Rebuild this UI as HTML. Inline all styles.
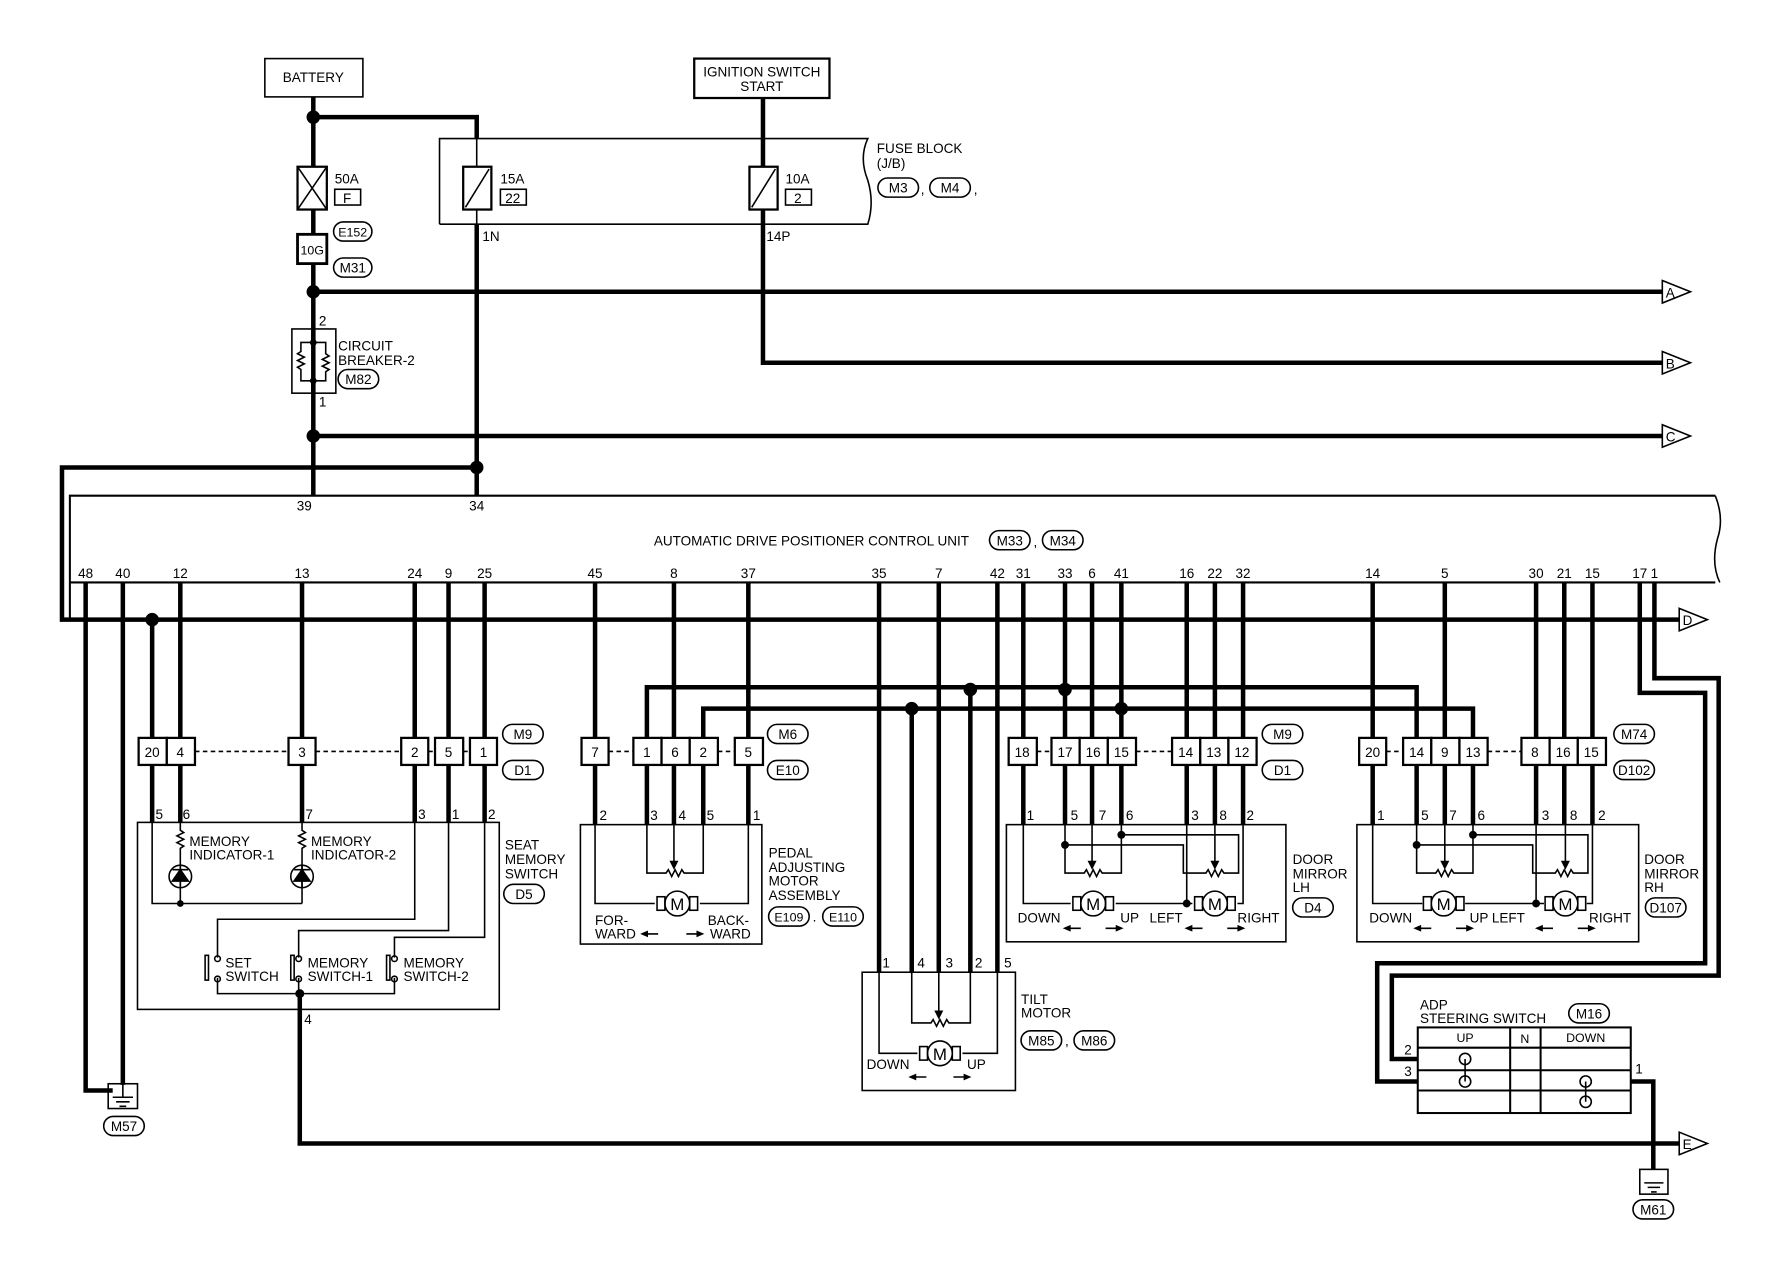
<!DOCTYPE html>
<html><head><meta charset="utf-8"><style>
html,body{margin:0;padding:0;background:#fff;}
svg{display:block;}
text{font-family:"Liberation Sans",sans-serif;font-size:12px;fill:#000;}
.t{stroke:#000;stroke-width:4;fill:none;}
.n{stroke:#000;stroke-width:1.4;fill:none;}
.b{stroke:#000;stroke-width:2;fill:#fff;}
.c{text-anchor:middle;}
</style></head><body>
<svg width="1766" height="1264" viewBox="0 0 1567 1122" preserveAspectRatio="none" xmlns="http://www.w3.org/2000/svg">
<!-- Battery / ignition -->
<rect x="235" y="52" width="87" height="34" class="n" fill="#fff"/>
<text x="278" y="73" class="c">BATTERY</text>
<rect x="616" y="52" width="120" height="35" class="b"/>
<text x="676" y="68" class="c">IGNITION SWITCH</text>
<text x="676" y="81" class="c">START</text>
<!-- fuse block -->
<path class="n" d="M390,199 V123 H770 Q762,140 770,160 Q776,180 770,199 H390"/>
<text x="778" y="136">FUSE BLOCK</text><text x="778" y="149">(J/B)</text>
<rect x="779" y="158" width="36" height="17" rx="8.5" class="n"/><text x="797" y="171" class="c">M3</text>
<text x="817" y="172">,</text>
<rect x="825" y="158" width="36" height="17" rx="8.5" class="n"/><text x="843" y="171" class="c">M4</text>
<text x="864" y="172">,</text>
<!-- thick wires -->
<path class="t" d="M278,86 V440 M278,104 H423 V123 M423,199 V440 M677,87 V148 M677,186 V322 H1475 M278,259 H1475 M278,387 H1475 M423,415 H55 V550 H1490"/>
<path class="n" d="M423,123 V148 M423,186 V199"/>
<circle cx="278" cy="104" r="6"/><circle cx="278" cy="259" r="6"/><circle cx="278" cy="387" r="6"/><circle cx="423" cy="415" r="6"/>
<!-- fuses -->
<rect x="264" y="148" width="26" height="38" class="b"/><path class="n" d="M264,148 L290,186 M290,148 L264,186"/>
<text x="297" y="163">50A</text><rect x="297" y="168" width="23" height="14" class="n"/><text x="308" y="180" class="c">F</text>
<rect x="411" y="148" width="25" height="38" class="b"/><path class="n" d="M413,184 L434,150"/>
<text x="444" y="163">15A</text><rect x="444" y="168" width="23" height="14" class="n"/><text x="455" y="180" class="c">22</text>
<rect x="665" y="148" width="25" height="38" class="b"/><path class="n" d="M667,184 L688,150"/>
<text x="697" y="163">10A</text><rect x="697" y="168" width="23" height="14" class="n"/><text x="708" y="180" class="c">2</text>
<text x="428" y="214">1N</text><text x="680" y="214">14P</text>
<rect x="296" y="197" width="34" height="17" rx="8.5" class="n"/><text x="313" y="210" class="c" style="font-size:11px">E152</text>
<rect x="264" y="208" width="26" height="26" class="b" style="stroke-width:2.5"/><text x="277" y="226" class="c" style="font-size:11px">10G</text>
<rect x="296" y="229" width="34" height="17" rx="8.5" class="n"/><text x="313" y="242" class="c">M31</text>
<!-- circuit breaker -->
<text x="283" y="289">2</text><text x="283" y="361">1</text>
<rect x="259" y="292" width="39" height="57" fill="#fff" class="n"/>
<path class="n" d="M278,304 H267 V312 l-3,2 6,3 -6,3 6,3 -6,3 3,2 V338 H289 V330 l3,-2 -6,-3 6,-3 -6,-3 6,-3 -3,-2 V304 H278"/>
<path class="t" d="M278,292 V304 M278,338 V349"/>
<circle cx="278" cy="304" r="3"/><circle cx="278" cy="338" r="3"/>
<text x="300" y="311">CIRCUIT</text><text x="300" y="324">BREAKER-2</text>
<rect x="300" y="328" width="36" height="17" rx="8.5" class="n"/><text x="318" y="341" class="c">M82</text>
<!-- flags -->
<g class="n" fill="#fff">
<polygon points="1475,249 1500,259 1475,269" fill="#fff"/><polygon points="1475,312 1500,322 1475,332" fill="#fff"/>
<polygon points="1475,377 1500,387 1475,397" fill="#fff"/><polygon points="1490,540 1515,550 1490,560" fill="#fff"/>
<polygon points="1490,1005 1515,1015 1490,1025" fill="#fff"/></g>
<text x="1478" y="264">A</text><text x="1478" y="327">B</text><text x="1478" y="392">C</text><text x="1493" y="555">D</text><text x="1493" y="1020">E</text>
<!-- control unit -->
<path class="n" d="M62,550 V440 H1522 M62,517 H1522" style="stroke-width:1.8"/>
<path class="n" d="M1522,440 Q1530,460 1524,478 Q1518,500 1526,517"/>
<text x="270" y="453" class="c">39</text><text x="423" y="453" class="c">34</text>
<text x="720" y="484" class="c">AUTOMATIC DRIVE POSITIONER CONTROL UNIT</text>
<rect x="878" y="471" width="36" height="17" rx="8.5" class="n"/><text x="896" y="484" class="c">M33</text>
<text x="917" y="485">,</text>
<rect x="925" y="471" width="36" height="17" rx="8.5" class="n"/><text x="943" y="484" class="c">M34</text>
<g class="c">
<text x="76" y="513">48</text><text x="109" y="513">40</text><text x="160" y="513">12</text><text x="268" y="513">13</text><text x="368" y="513">24</text><text x="398" y="513">9</text><text x="430" y="513">25</text>
<text x="528" y="513">45</text><text x="598" y="513">8</text><text x="664" y="513">37</text><text x="780" y="513">35</text><text x="833" y="513">7</text><text x="885" y="513">42</text><text x="908" y="513">31</text>
<text x="945" y="513">33</text><text x="969" y="513">6</text><text x="995" y="513">41</text><text x="1053" y="513">16</text><text x="1078" y="513">22</text><text x="1103" y="513">32</text>
<text x="1218" y="513">14</text><text x="1282" y="513">5</text><text x="1363" y="513">30</text><text x="1388" y="513">21</text><text x="1413" y="513">15</text><text x="1455" y="513">17</text><text x="1468" y="513">1</text>
</g>
<!-- pin wires -->
<path class="t" d="M76,517 V968 H100 M109,517 V963 M135,550 V655 M160,517 V655 M268,517 V655 M368,517 V655 M398,517 V655 M430,517 V655
M528,517 V655 M598,517 V655 M664,517 V655 M574,655 V610 H1257 V655 M624,655 V629 H1307 V655
M780,517 V863 M833,517 V863 M885,517 V863 M809,629 V863 M861,610 V863 M908,517 V655
M945,517 V655 M969,517 V655 M995,517 V655 M1053,517 V655 M1078,517 V655 M1103,517 V655
M1218,517 V655 M1282,517 V655 M1363,517 V655 M1388,517 V655 M1413,517 V655
M1468,517 V602 H1525 V866 H1235 V940 H1258 M1455,517 V615 H1513 V855 H1222 V960 H1258
M135,679 V730 M160,679 V730 M268,679 V730 M368,679 V730 M398,679 V730 M430,679 V730
M528,679 V732 M574,679 V732 M598,679 V732 M624,679 V732 M664,679 V732
M908,679 V732 M945,679 V732 M969,679 V732 M995,679 V732 M1053,679 V732 M1078,679 V732 M1103,679 V732
M1218,679 V732 M1257,679 V732 M1282,679 V732 M1307,679 V732 M1363,679 V732 M1388,679 V732 M1413,679 V732
M266,882 V1015 H1490 M1447,960 H1467 V1038"/>
<circle cx="135" cy="550" r="6"/><circle cx="809" cy="629" r="6"/><circle cx="861" cy="612" r="6"/><circle cx="945" cy="612" r="6"/><circle cx="995" cy="629" r="6"/>
<!-- grounds -->
<rect x="96" y="962" width="26" height="22" class="n" fill="#fff"/><path class="n" d="M100,974 H118 M103,978 H115 M106,982 H112 M109,962 V974"/>
<rect x="92" y="991" width="36" height="17" rx="8.5" class="n"/><text x="110" y="1004" class="c">M57</text>
<rect x="1455" y="1038" width="25" height="22" class="n"/><path class="n" d="M1459,1050 H1476 M1462,1054 H1473 M1465,1058 H1470"/>
<rect x="1449" y="1065" width="36" height="17" rx="8.5" class="n"/><text x="1467" y="1078" class="c">M61</text>
<!-- connector rows -->
<g class="n" style="stroke-dasharray:4,3"><path d="M173,667 H256 M280,667 H356 M380,667 H386 M411,667 H417 M540,667 H562 M637,667 H652 M920,667 H933 M1008,667 H1040 M1230,667 H1245 M1320,667 H1350"/></g>
<g class="b">
<rect x="123" y="655" width="25" height="24"/><rect x="148" y="655" width="25" height="24"/><rect x="256" y="655" width="24" height="24"/>
<rect x="356" y="655" width="24" height="24"/><rect x="386" y="655" width="25" height="24"/><rect x="417" y="655" width="24" height="24"/>
<rect x="516" y="655" width="24" height="24"/><rect x="562" y="655" width="25" height="24"/><rect x="587" y="655" width="25" height="24"/><rect x="612" y="655" width="25" height="24"/><rect x="652" y="655" width="25" height="24"/>
<rect x="895" y="655" width="25" height="24"/><rect x="933" y="655" width="25" height="24"/><rect x="958" y="655" width="25" height="24"/><rect x="983" y="655" width="25" height="24"/>
<rect x="1040" y="655" width="25" height="24"/><rect x="1065" y="655" width="25" height="24"/><rect x="1090" y="655" width="25" height="24"/>
<rect x="1206" y="655" width="24" height="24"/><rect x="1245" y="655" width="25" height="24"/><rect x="1270" y="655" width="25" height="24"/><rect x="1295" y="655" width="25" height="24"/>
<rect x="1350" y="655" width="25" height="24"/><rect x="1375" y="655" width="25" height="24"/><rect x="1400" y="655" width="25" height="24"/>
</g>
<g class="c">
<text x="135" y="672">20</text><text x="160" y="672">4</text><text x="268" y="672">3</text><text x="368" y="672">2</text><text x="398" y="672">5</text><text x="429" y="672">1</text>
<text x="528" y="672">7</text><text x="574" y="672">1</text><text x="599" y="672">6</text><text x="624" y="672">2</text><text x="664" y="672">5</text>
<text x="907" y="672">18</text><text x="945" y="672">17</text><text x="970" y="672">16</text><text x="995" y="672">15</text><text x="1052" y="672">14</text><text x="1077" y="672">13</text><text x="1102" y="672">12</text>
<text x="1218" y="672">20</text><text x="1257" y="672">14</text><text x="1282" y="672">9</text><text x="1307" y="672">13</text><text x="1362" y="672">8</text><text x="1387" y="672">16</text><text x="1412" y="672">15</text>
</g>
<g class="n">
<rect x="446" y="643" width="36" height="17" rx="8.5"/><rect x="446" y="675" width="36" height="17" rx="8.5"/>
<rect x="681" y="643" width="36" height="17" rx="8.5"/><rect x="681" y="675" width="36" height="17" rx="8.5"/>
<rect x="1120" y="643" width="36" height="17" rx="8.5"/><rect x="1120" y="675" width="36" height="17" rx="8.5"/>
<rect x="1432" y="643" width="36" height="17" rx="8.5"/><rect x="1432" y="675" width="36" height="17" rx="8.5"/>
</g>
<g class="c">
<text x="464" y="656">M9</text><text x="464" y="688">D1</text><text x="699" y="656">M6</text><text x="699" y="688">E10</text>
<text x="1138" y="656">M9</text><text x="1138" y="688">D1</text><text x="1450" y="656">M74</text><text x="1450" y="688">D102</text>
</g>
<!-- seat memory switch -->
<rect x="122" y="730" width="321" height="166" class="n"/>
<g><text x="138" y="727">5</text><text x="162" y="727">6</text><text x="271" y="727">7</text><text x="371" y="727">3</text><text x="401" y="727">1</text><text x="433" y="727">2</text></g>
<path class="n" d="M135,730 V802 H268 M160,730 V737 l3,2 -6,3 6,3 -6,3 6,3 -3,2 V802 M268,730 V737 l3,2 -6,3 6,3 -6,3 6,3 -3,2 V802
M368,730 V816 H193 V850 M398,730 V826 H265 V850 M430,730 V832 H350 V850 M193,868 V882 H350 V868 M265,868 V882"/>
<circle cx="160" cy="778" r="10" class="n" fill="#fff"/><circle cx="268" cy="778" r="10" class="n" fill="#fff"/>
<path d="M153,782 L167,782 L160,772 Z M153,772 H167" stroke="#000" stroke-width="1.5"/>
<path d="M261,782 L275,782 L268,772 Z M261,772 H275" stroke="#000" stroke-width="1.5"/>
<path class="n" d="M160,768 V788 M268,768 V788"/>
<circle cx="160" cy="802" r="3"/><circle cx="266" cy="882" r="4"/>
<g fill="#fff" class="n"><circle cx="193" cy="851" r="2.5"/><circle cx="193" cy="869" r="2.5"/><circle cx="265" cy="851" r="2.5"/><circle cx="265" cy="869" r="2.5"/><circle cx="350" cy="851" r="2.5"/><circle cx="350" cy="869" r="2.5"/>
<rect x="182" y="848" width="3" height="22"/><rect x="258" y="848" width="3" height="22"/><rect x="343" y="848" width="3" height="22"/></g>
<text x="168" y="751">MEMORY</text><text x="168" y="763">INDICATOR-1</text><text x="276" y="751">MEMORY</text><text x="276" y="763">INDICATOR-2</text>
<text x="200" y="859">SET</text><text x="200" y="871">SWITCH</text><text x="273" y="859">MEMORY</text><text x="273" y="871">SWITCH-1</text><text x="358" y="859">MEMORY</text><text x="358" y="871">SWITCH-2</text>
<text x="270" y="909">4</text>
<text x="448" y="754">SEAT</text><text x="448" y="767">MEMORY</text><text x="448" y="780">SWITCH</text>
<rect x="447" y="785" width="36" height="17" rx="8.5" class="n"/><text x="465" y="798" class="c">D5</text>
<!-- pedal -->
<rect x="515" y="732" width="161" height="106" class="n"/>
<g><text x="532" y="728">2</text><text x="577" y="728">3</text><text x="602" y="728">4</text><text x="627" y="728">5</text><text x="668" y="728">1</text></g>
<path class="n" d="M574,732 V775 H591 l2,-3 3,6 3,-6 3,6 3,-6 2,3 H624 V732 M598,732 V766 M528,732 V802 H581 M664,732 V802 H621"/>
<path d="M594,764 H602 L598,772 Z"/>
<g id="mot"></g>
<circle cx="601" cy="802" r="11" class="n" fill="#fff"/><rect x="583" y="796" width="7" height="12" class="n" fill="#fff"/><rect x="612" y="796" width="7" height="12" class="n" fill="#fff"/>
<text x="601" y="808" class="c" style="font-size:15px">M</text>
<text x="528" y="821">FOR-</text><text x="528" y="833">WARD</text><text x="628" y="821">BACK-</text><text x="630" y="833">WARD</text>
<path class="n" d="M572,829 H584 M609,829 H621"/><path d="M568,829 L575,826 L575,832 Z M625,829 L618,826 L618,832 Z"/>
<text x="682" y="761">PEDAL</text><text x="682" y="774">ADJUSTING</text><text x="682" y="786">MOTOR</text><text x="682" y="799">ASSEMBLY</text>
<rect x="682" y="805" width="36" height="17" rx="8.5" class="n"/><text x="700" y="818" class="c" style="font-size:11px">E109</text><text x="721" y="818">.</text>
<rect x="730" y="805" width="36" height="17" rx="8.5" class="n"/><text x="748" y="818" class="c" style="font-size:11px">E110</text>
<!-- tilt -->
<rect x="765" y="863" width="136" height="105" class="n"/>
<g><text x="783" y="859">1</text><text x="814" y="859">4</text><text x="839" y="859">3</text><text x="865" y="859">2</text><text x="891" y="859">5</text></g>
<path class="n" d="M809,863 V908 H826 l2,-3 3,6 3,-6 3,6 3,-6 2,3 H861 V863 M833,863 V899 M780,863 V935 H814 M885,863 V935 H854"/>
<path d="M829,897 H837 L833,905 Z"/>
<circle cx="834" cy="935" r="11" class="n" fill="#fff"/><rect x="816" y="929" width="7" height="12" class="n" fill="#fff"/><rect x="845" y="929" width="7" height="12" class="n" fill="#fff"/>
<text x="834" y="941" class="c" style="font-size:15px">M</text>
<text x="769" y="949">DOWN</text><text x="858" y="949">UP</text>
<path class="n" d="M810,956 H822 M846,956 H858"/><path d="M806,956 L813,953 L813,959 Z M862,956 L855,953 L855,959 Z"/>
<text x="906" y="891">TILT</text><text x="906" y="903">MOTOR</text>
<rect x="906" y="915" width="36" height="17" rx="8.5" class="n"/><text x="924" y="928" class="c">M85</text><text x="945" y="928">,</text>
<rect x="953" y="915" width="36" height="17" rx="8.5" class="n"/><text x="971" y="928" class="c">M86</text>
<!-- door mirror LH -->
<rect x="893" y="732" width="248" height="104" class="n"/>
<g><text x="911" y="728">1</text><text x="950" y="728">5</text><text x="975" y="728">7</text><text x="999" y="728">6</text><text x="1057" y="728">3</text><text x="1082" y="728">8</text><text x="1106" y="728">2</text></g>
<path class="n" d="M945,732 V775 H962 l2,-3 3,6 3,-6 3,6 3,-6 2,3 H995 V732 M969,732 V766 M945,750 H1050 V775 H1070 l2,-3 3,6 3,-6 3,6 3,-6 2,3 H1099 V741 H995
M1078,732 V766 M908,732 V802 H950 M1053,732 V802 H990 M1053,802 H1058 M1103,732 V802 H1098"/>
<path d="M965,764 H973 L969,772 Z M1074,764 H1082 L1078,772 Z"/>
<circle cx="945" cy="750" r="3.5"/><circle cx="995" cy="741" r="3.5"/><circle cx="1053" cy="802" r="3.5"/>
<circle cx="970" cy="802" r="11" class="n" fill="#fff"/><rect x="952" y="796" width="7" height="12" class="n" fill="#fff"/><rect x="981" y="796" width="7" height="12" class="n" fill="#fff"/><text x="970" y="808" class="c" style="font-size:15px">M</text>
<circle cx="1078" cy="802" r="11" class="n" fill="#fff"/><rect x="1060" y="796" width="7" height="12" class="n" fill="#fff"/><rect x="1089" y="796" width="7" height="12" class="n" fill="#fff"/><text x="1078" y="808" class="c" style="font-size:15px">M</text>
<text x="903" y="819">DOWN</text><text x="994" y="819">UP</text><text x="1020" y="819">LEFT</text><text x="1098" y="819">RIGHT</text>
<path class="n" d="M947,824 H959 M981,824 H993 M1055,824 H1067 M1089,824 H1101"/><path d="M943,824 L950,821 L950,827 Z M997,824 L990,821 L990,827 Z M1051,824 L1058,821 L1058,827 Z M1105,824 L1098,821 L1098,827 Z"/>
<text x="1147" y="767">DOOR</text><text x="1147" y="780">MIRROR</text><text x="1147" y="792">LH</text>
<rect x="1147" y="797" width="36" height="17" rx="8.5" class="n"/><text x="1165" y="810" class="c">D4</text>
<!-- door mirror RH -->
<rect x="1204" y="732" width="250" height="104" class="n"/>
<g><text x="1222" y="728">1</text><text x="1261" y="728">5</text><text x="1286" y="728">7</text><text x="1311" y="728">6</text><text x="1368" y="728">3</text><text x="1393" y="728">8</text><text x="1418" y="728">2</text></g>
<path class="n" d="M1257,732 V775 H1274 l2,-3 3,6 3,-6 3,6 3,-6 2,3 H1307 V732 M1282,732 V766 M1257,750 H1360 V775 H1380 l2,-3 3,6 3,-6 3,6 3,-6 2,3 H1409 V741 H1307
M1389,732 V766 M1218,732 V802 H1262 M1363,732 V802 H1300 M1363,802 H1370 M1413,732 V802 H1408"/>
<path d="M1278,764 H1286 L1282,772 Z M1385,764 H1393 L1389,772 Z"/>
<circle cx="1257" cy="750" r="3.5"/><circle cx="1307" cy="741" r="3.5"/><circle cx="1363" cy="802" r="3.5"/>
<circle cx="1281" cy="802" r="11" class="n" fill="#fff"/><rect x="1263" y="796" width="7" height="12" class="n" fill="#fff"/><rect x="1292" y="796" width="7" height="12" class="n" fill="#fff"/><text x="1281" y="808" class="c" style="font-size:15px">M</text>
<circle cx="1389" cy="802" r="11" class="n" fill="#fff"/><rect x="1371" y="796" width="7" height="12" class="n" fill="#fff"/><rect x="1400" y="796" width="7" height="12" class="n" fill="#fff"/><text x="1389" y="808" class="c" style="font-size:15px">M</text>
<text x="1215" y="819">DOWN</text><text x="1304" y="819">UP LEFT</text><text x="1410" y="819">RIGHT</text>
<path class="n" d="M1258,824 H1270 M1292,824 H1304 M1366,824 H1378 M1400,824 H1412"/><path d="M1254,824 L1261,821 L1261,827 Z M1308,824 L1301,821 L1301,827 Z M1362,824 L1369,821 L1369,827 Z M1416,824 L1409,821 L1409,827 Z"/>
<text x="1459" y="767">DOOR</text><text x="1459" y="780">MIRROR</text><text x="1459" y="792">RH</text>
<rect x="1460" y="797" width="36" height="17" rx="8.5" class="n"/><text x="1478" y="810" class="c">D107</text>
<!-- ADP steering switch -->
<text x="1260" y="896">ADP</text><text x="1260" y="908">STEERING SWITCH</text>
<rect x="1392" y="891" width="36" height="17" rx="8.5" class="n"/><text x="1410" y="904" class="c">M16</text>
<rect x="1258" y="912" width="189" height="76" class="n" style="stroke-width:1.8"/>
<path class="n" d="M1340,912 V988 M1367,912 V988 M1258,930 H1447 M1258,950 H1447 M1258,968 H1447" style="stroke-width:1.8"/>
<text x="1300" y="925" class="c" style="font-size:11px">UP</text><text x="1353" y="926" class="c" style="font-size:11px">N</text><text x="1407" y="925" class="c" style="font-size:11px">DOWN</text>
<text x="1246" y="936">2</text><text x="1246" y="955">3</text><text x="1451" y="953">1</text>
<path class="n" d="M1300,940 V960 M1407,960 V978"/>
<g class="n" fill="#fff"><circle cx="1300" cy="940" r="5"/><circle cx="1300" cy="960" r="5"/><circle cx="1407" cy="960" r="5"/><circle cx="1407" cy="978" r="5"/></g>
</svg>
</body></html>
